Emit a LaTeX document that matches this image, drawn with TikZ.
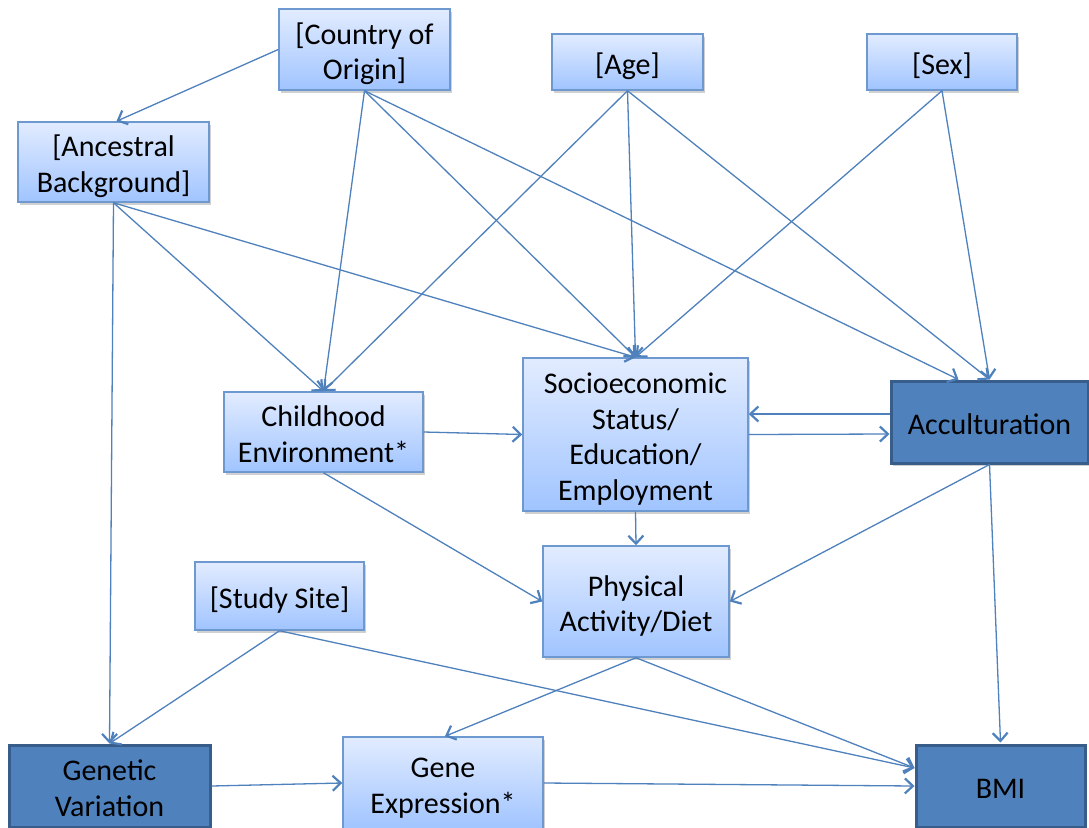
\documentclass[tikz,border=0pt]{standalone}
\usepackage{fontspec}
\setmainfont{Carlito}
\usetikzlibrary{arrows.meta,shadows}
\definecolor{boxtop}{RGB}{226,236,255}
\definecolor{boxbot}{RGB}{160,196,255}
\definecolor{boxline}{RGB}{110,152,208}
\definecolor{darkfill}{RGB}{79,129,189}
\definecolor{darkline}{RGB}{56,93,138}
\definecolor{arrowcol}{RGB}{79,129,189}
\newcommand\mystrut{\rule[-5pt]{0pt}{35pt}}
\begin{document}
\begin{tikzpicture}[x=1pt,y=-1pt,
  boxtext/.style={align=center, inner sep=0pt, font=\fontsize{30}{35.5}\selectfont},
  lightbox/.style={boxtext, draw=boxline, line width=1.5pt, top color=boxtop, bottom color=boxbot,
    drop shadow={shadow xshift=1.5pt, shadow yshift=-2.5pt, opacity=0.3, fill=black!60}},
  darkbox/.style={boxtext, draw=darkline, line width=3pt, fill=darkfill,
    drop shadow={shadow xshift=1.5pt, shadow yshift=-2.5pt, opacity=0.3, fill=black!60}},
  arr/.style={draw=arrowcol, line width=1.3pt, -{Straight Barb[length=8pt,width=15pt,line width=2.2pt]}}]
\useasboundingbox (0,0) rectangle (1089,827);
\clip (0,0) rectangle (1089,827);
\fill[white] (0,0) rectangle (1089,827);

% nodes
\node[lightbox, minimum width=171pt, minimum height=81pt] (country) at (364.5,49.5) {\mystrut[Country of\\\mystrut Origin]};
\node[lightbox, minimum width=151pt, minimum height=56pt] (age) at (627.5,62) {\mystrut[Age]};
\node[lightbox, minimum width=150pt, minimum height=56pt] (sex) at (942,62) {\mystrut[Sex]};
\node[lightbox, minimum width=191pt, minimum height=80pt] (anc) at (113.5,162) {\mystrut[Ancestral\\\mystrut Background]};
\node[lightbox, minimum width=199pt, minimum height=80pt] (child) at (323.5,432) {\mystrut Childhood\\\mystrut Environment*};
\node[lightbox, minimum width=225pt, minimum height=153pt] (ses) at (635.5,434.5) {\mystrut Socioeconomic\\\mystrut Status/\\\mystrut Education/\\\mystrut Employment};
\node[darkbox, minimum width=197pt, minimum height=82pt] (acc) at (989.5,422) {\mystrut Acculturation};
\node[lightbox, minimum width=186pt, minimum height=111pt] (phys) at (636,601.5) {\mystrut Physical\\\mystrut Activity/Diet};
\node[lightbox, minimum width=169pt, minimum height=68pt] (study) at (279.5,596) {\mystrut[Study Site]};
\node[darkbox, minimum width=201pt, minimum height=82pt] (gen) at (109.5,786) {\mystrut Genetic\\\mystrut Variation};
\node[lightbox, minimum width=200pt, minimum height=92pt] (gexp) at (443,783) {\mystrut Gene\\\mystrut Expression*};
\node[darkbox, minimum width=169pt, minimum height=82pt] (bmi) at (1000.5,786) {\mystrut BMI};

% connectors
\draw[arr] (country.west) -- ([xshift=3pt]anc.north);
\draw[arr] (country.south) -- (child.north);
\draw[arr] (country.south) -- (ses.north);
\draw[arr] (country.south) -- ([xshift=-31pt]acc.north);
\draw[arr] (age.south) -- (child.north);
\draw[arr] (age.south) -- (ses.north);
\draw[arr] (age.south) -- (acc.north);
\draw[arr] (sex.south) -- (ses.north);
\draw[arr] (sex.south) -- (acc.north);
\draw[arr] (anc.south) -- (child.north);
\draw[arr] (anc.south) -- (ses.north);
\draw[arr] (anc.south) -- (gen.north);
\draw[arr] (child.east) -- (ses.west);
\draw[arr] ([yshift=8pt]acc.west) -- ([yshift=20.5pt]ses.east);
\draw[arr] (ses.east) -- ([yshift=-12pt]acc.west);
\draw[arr] (ses.south) -- (phys.north);
\draw[arr] (child.south) -- (phys.west);
\draw[arr] (acc.south) -- (phys.east);
\draw[arr] (acc.south) -- ([yshift=1pt]bmi.north);
\draw[arr] (study.south) -- (gen.north);
\draw[arr] (study.south) -- ([yshift=18pt]bmi.west);
\draw[arr] (phys.south) -- ([xshift=2pt]gexp.north);
\draw[arr] (phys.south) -- ([yshift=18pt]bmi.west);
\draw[arr] (gen.east) -- (gexp.west);
\draw[arr] (gexp.east) -- (bmi.west);
\end{tikzpicture}
\end{document}
